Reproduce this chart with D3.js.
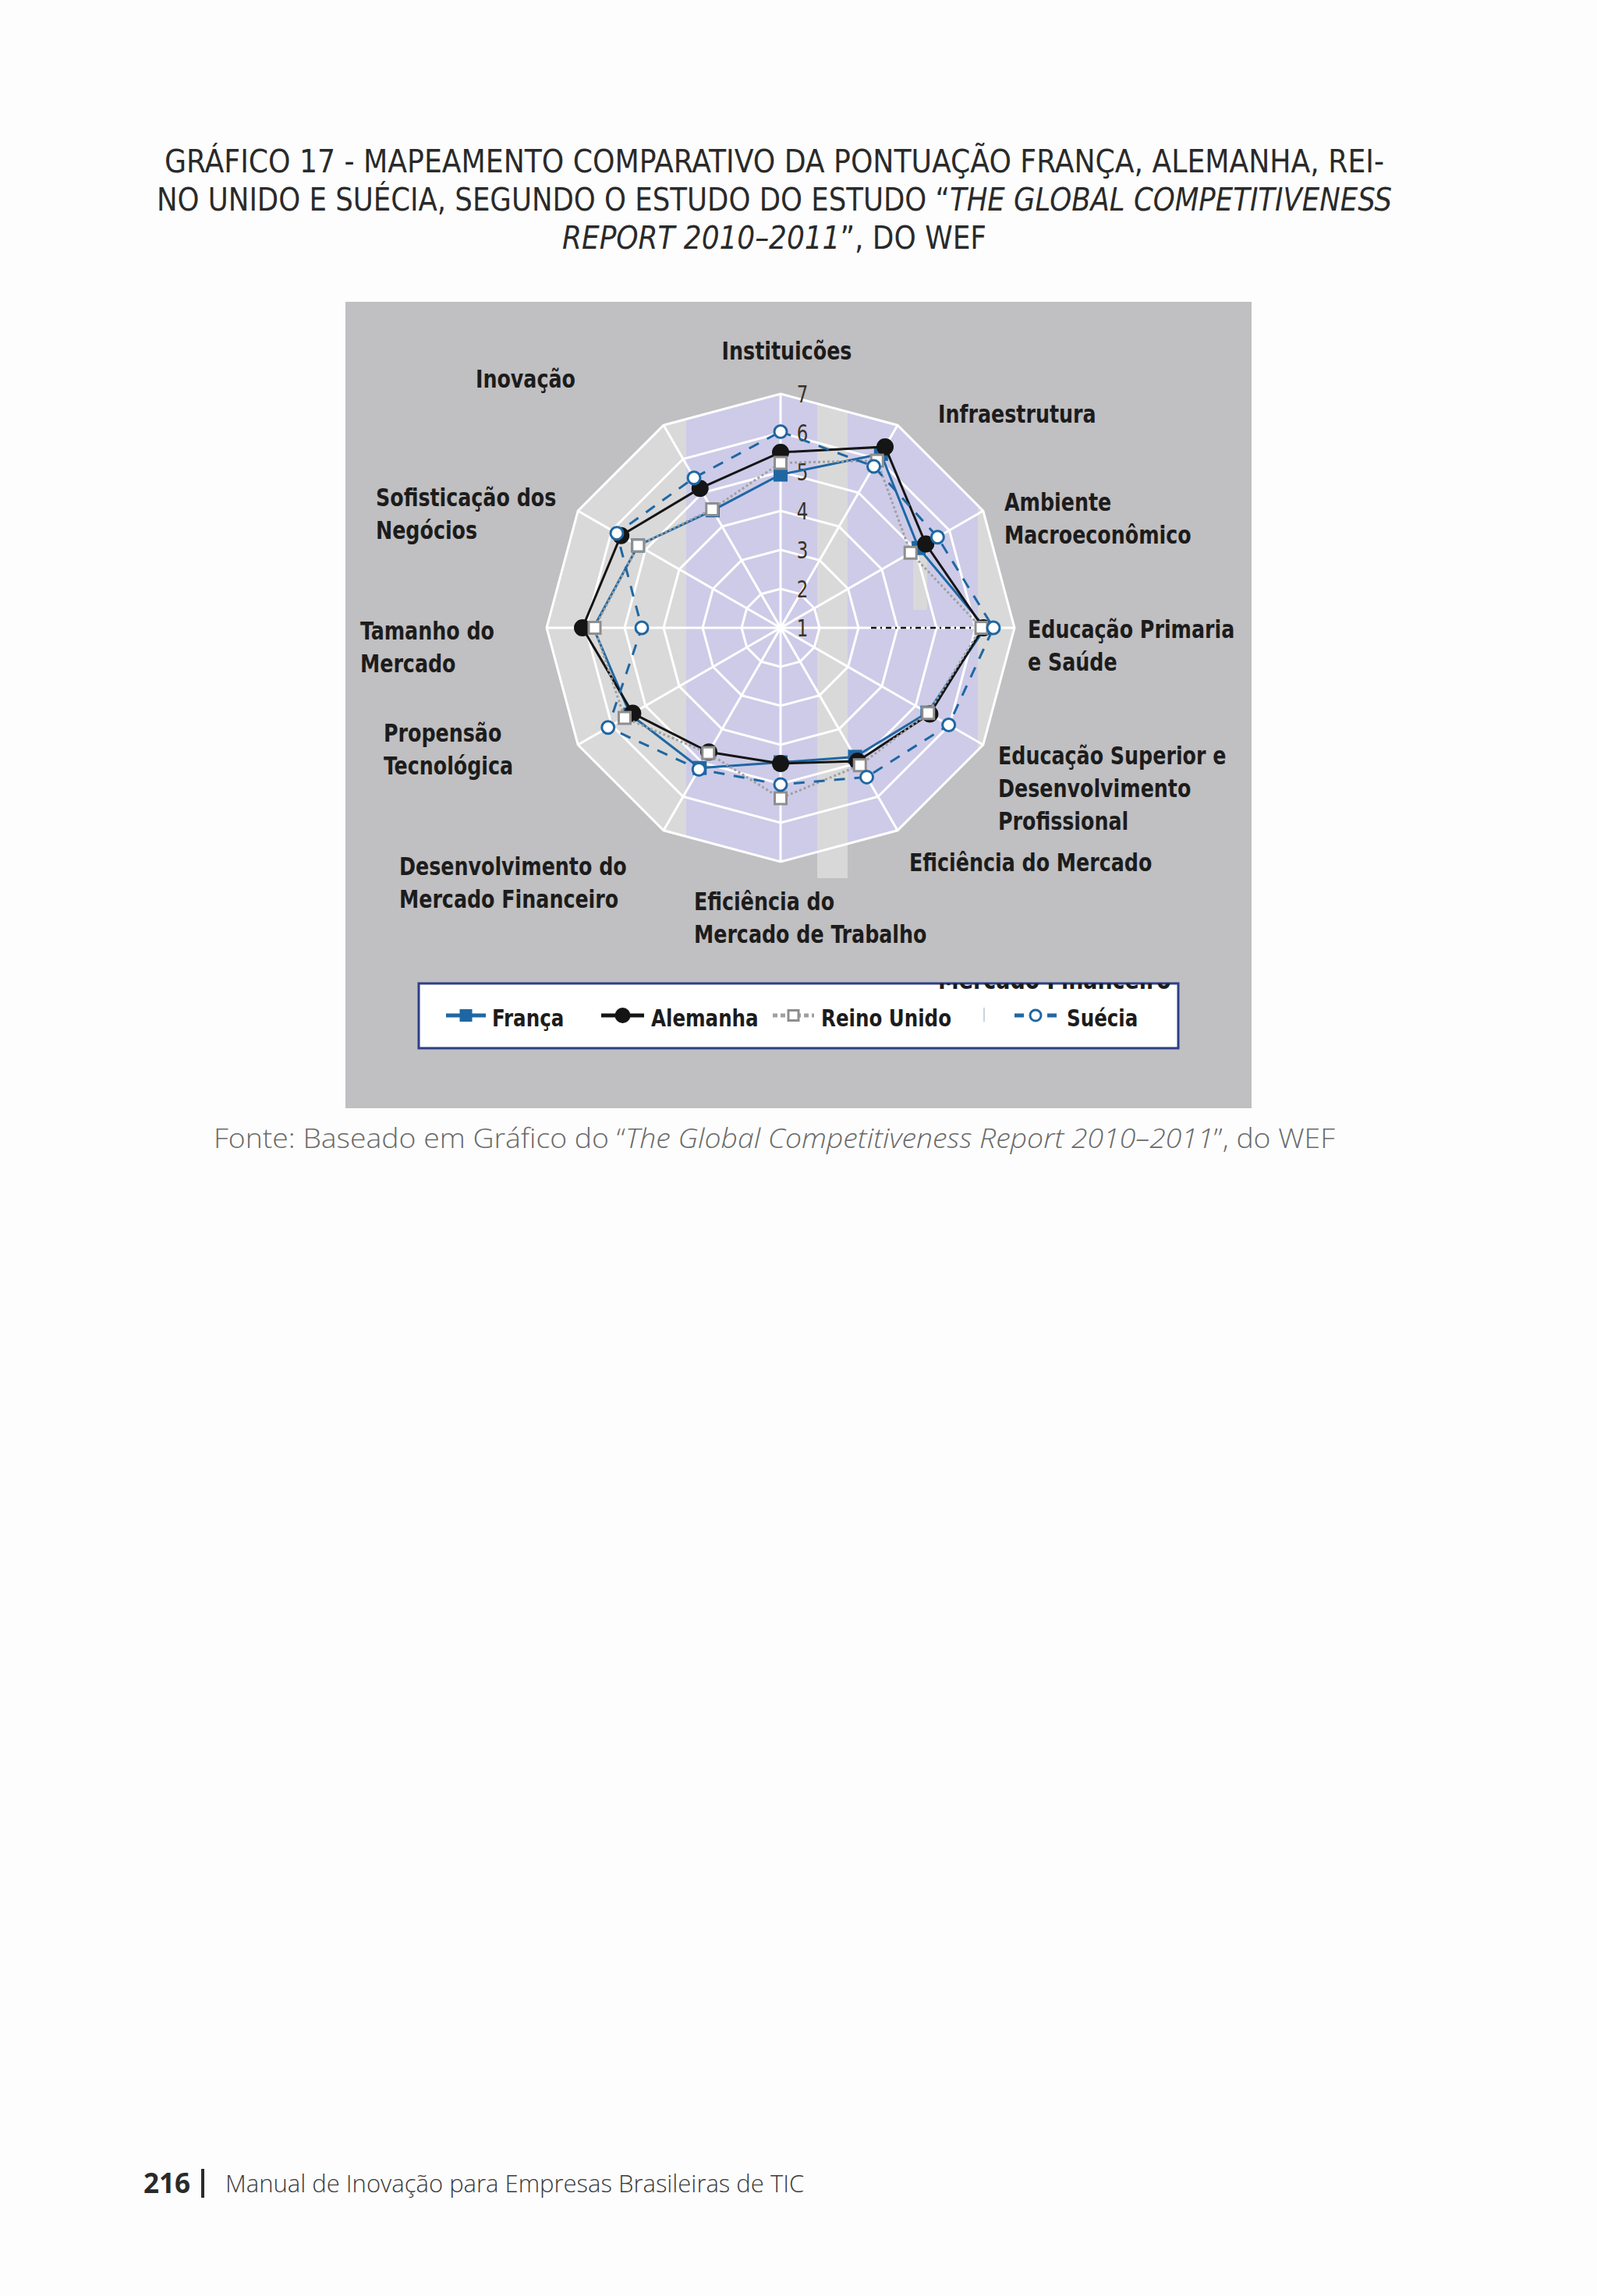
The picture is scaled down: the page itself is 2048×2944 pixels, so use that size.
<!DOCTYPE html>
<html>
<head>
<meta charset="utf-8">
<script src="https://cdn.jsdelivr.net/npm/d3@7"></script>
<style>
body{margin:0;background:#fdfdfd;}
svg{display:block;}
.lbl{font-family:"Liberation Sans Narrow","DejaVu Sans Condensed","DejaVu Sans",sans-serif;font-stretch:condensed;font-weight:bold;fill:#1c1c1c;}
.ttl{font-family:"Liberation Sans Narrow","DejaVu Sans Condensed","Noto Sans",sans-serif;font-stretch:condensed;fill:#2a2a2a;}
.src{font-family:"Open Sans","Noto Sans",sans-serif;font-weight:300;fill:#6a6a6a;}
</style>
</head>
<body>
<div id="chart"></div>
<script>
// pillars of the WEF report, clockwise from the top
const axes = ['Instituicões','Infraestrutura','Ambiente Macroeconômico','Educação Primaria e Saúde',
    'Educação Superior e Desenvolvimento Profissional','Eficiência do Mercado','Eficiência do Mercado de Trabalho',
    'Desenvolvimento do Mercado Financeiro','Propensão Tecnológica','Tamanho do Mercado',
    'Sofisticação dos Negócios','Inovação'];

const franca   = [4.93, 6.15, 5.09, 6.25, 5.35, 4.82, 4.45, 5.15, 5.45, 5.80, 5.22, 4.48];
const alemanha = [5.50, 6.36, 5.30, 6.20, 5.42, 4.95, 4.48, 4.68, 5.38, 6.08, 5.73, 5.13];
const reinoUnido = [5.23, 5.95, 4.85, 6.15, 5.37, 5.07, 5.37, 4.71, 5.62, 5.77, 5.22, 4.51];
const suecia   = [6.03, 5.78, 5.65, 6.46, 5.98, 5.42, 5.02, 5.19, 6.11, 4.56, 5.85, 5.44];

const seriesNames = ['França','Alemanha','Reino Unido','Suécia'];
const ticks = [1,2,3,4,5,6,7];

// label lines and where they sit in the picture
const axisLabels = [
    {lines:['Instituicões'], x:1009, y:461, anchor:'middle'},
    {lines:['Infraestrutura'], x:1203, y:542},
    {lines:['Ambiente','Macroeconômico'], x:1288, y:655},
    {lines:['Educação Primaria','e Saúde'], x:1318, y:818},
    {lines:['Educação Superior e','Desenvolvimento','Profissional'], x:1280, y:980},
    {lines:['Eficiência do Mercado'], x:1166, y:1117},
    {lines:['Eficiência do','Mercado de Trabalho'], x:890, y:1167},
    {lines:['Desenvolvimento do','Mercado Financeiro'], x:512, y:1122},
    {lines:['Propensão','Tecnológica'], x:492, y:951},
    {lines:['Tamanho do','Mercado'], x:462, y:820},
    {lines:['Sofisticação dos','Negócios'], x:482, y:649},
    {lines:['Inovação'], x:610, y:497}
];

const W = 2048, H = 2944;
const cx = 1001, cy = 805, R = 300;
const squeeze = 0.88; // the original labels use a narrow face

const svg = d3.select('#chart').append('svg')
    .attr('width', W)
    .attr('height', H);

// title
const title = svg.append('g').attr('class','ttl').style('font-size','41px');
title.append('text').attr('x',993).attr('y',221).attr('text-anchor','middle')
    .attr('textLength',1564).attr('lengthAdjust','spacingAndGlyphs')
    .text('GRÁFICO 17 - MAPEAMENTO COMPARATIVO DA PONTUAÇÃO FRANÇA, ALEMANHA, REI-');
const t2 = title.append('text').attr('x',993).attr('y',270).attr('text-anchor','middle')
    .attr('textLength',1584).attr('lengthAdjust','spacingAndGlyphs');
t2.append('tspan').text('NO UNIDO E SUÉCIA, SEGUNDO O ESTUDO DO ESTUDO “');
t2.append('tspan').style('font-style','italic').text('THE GLOBAL COMPETITIVENESS');
const t3 = title.append('text').attr('x',993).attr('y',319).attr('text-anchor','middle')
    .attr('textLength',544).attr('lengthAdjust','spacingAndGlyphs');
t3.append('tspan').style('font-style','italic').text('REPORT 2010–2011');
t3.append('tspan').text('”, DO WEF');

// chart panel
svg.append('rect')
    .attr('x',443).attr('y',387).attr('width',1162).attr('height',1034)
    .attr('fill','#c0bfc1');

const r = d3.scaleLinear().domain([1,7]).range([0,R]);
const angle = i => i * 2 * Math.PI / axes.length;

const plot = svg.append('g').attr('transform', `translate(${cx},${cy})`);

const ringPath = v => d3.lineRadial()
    .angle((d,i) => angle(i))
    .radius(() => r(v))
    .curve(d3.curveLinearClosed)(axes);

// the light band that runs below the web
plot.append('rect').attr('x',1048-cx).attr('y',1070-cy).attr('width',39).attr('height',56)
    .attr('fill','#d8d8d8');

plot.append('clipPath').attr('id','webclip')
    .append('path').attr('d', ringPath(7));

plot.append('path').attr('d', ringPath(7)).attr('fill','#d9d9d9');

const bands = plot.append('g').attr('clip-path','url(#webclip)');
bands.append('rect').attr('x',880-cx).attr('y',-R).attr('width',168).attr('height',2*R).attr('fill','#cdcbe8');
bands.append('rect').attr('x',1087-cx).attr('y',-R).attr('width',167).attr('height',2*R).attr('fill','#cdcbe8');
bands.append('rect').attr('x',1171-cx).attr('y',702-cy).attr('width',18).attr('height',80).attr('fill','#d9d9d9');

// grid
plot.selectAll('.ring')
    .data(ticks.slice(1))
    .enter().append('path').attr('class','ring')
    .attr('d', d => ringPath(d))
    .attr('fill','none')
    .attr('stroke','#ffffff')
    .attr('stroke-width',3);

plot.selectAll('.spoke')
    .data(axes)
    .enter().append('line').attr('class','spoke')
    .attr('x1',0).attr('y1',0)
    .attr('x2',(d,i) => r(7)*Math.sin(angle(i)))
    .attr('y2',(d,i) => -r(7)*Math.cos(angle(i)))
    .attr('stroke','#ffffff')
    .attr('stroke-width',3);

plot.selectAll('.tick')
    .data(ticks)
    .enter().append('text').attr('class','lbl tick')
    .attr('transform', d => `translate(28,${-r(d) + 11}) scale(0.82,1)`)
    .attr('text-anchor','middle')
    .style('font-size','31px')
    .style('font-weight','normal')
    .style('fill','#3b3226')
    .text(d => d);

// stray dash-dot stroke on the right spoke
plot.append('line')
    .attr('x1',1117-cx).attr('y1',0).attr('x2',1254-cx).attr('y2',0)
    .attr('stroke','#111').attr('stroke-width',2.5)
    .attr('stroke-dasharray','7 5 2 5');

// series
const series = [
    {name:seriesNames[0], values:franca, color:'#1f67a3', dash:null, marker:'square', fill:'#1f67a3', mstroke:'#1f67a3', size:15},
    {name:seriesNames[1], values:alemanha, color:'#151515', dash:null, marker:'circle', fill:'#151515', mstroke:'#151515', size:19},
    {name:seriesNames[2], values:reinoUnido, color:'#a0a0a0', dash:'3 3', marker:'square', fill:'#ffffff', mstroke:'#8e8e8e', size:15},
    {name:seriesNames[3], values:suecia, color:'#1f67a3', dash:'14 12', marker:'circle', fill:'#ffffff', mstroke:'#1f67a3', size:16}
];

const radar = d3.lineRadial()
    .angle((d,i) => angle(i))
    .radius(d => r(d))
    .curve(d3.curveLinearClosed);

const sg = plot.selectAll('.series')
    .data(series)
    .enter().append('g').attr('class','series');

sg.append('path')
    .attr('d', d => radar(d.values))
    .attr('fill','none')
    .attr('stroke', d => d.color)
    .attr('stroke-width',3)
    .attr('stroke-dasharray', d => d.dash);

function drawMarker(g, kind, x, y, size, fill, stroke){
    if(kind === 'square'){
        g.append('rect')
            .attr('x',x-size/2).attr('y',y-size/2)
            .attr('width',size).attr('height',size)
            .attr('fill',fill).attr('stroke',stroke).attr('stroke-width',3);
    }else{
        g.append('circle')
            .attr('cx',x).attr('cy',y).attr('r',size/2)
            .attr('fill',fill).attr('stroke',stroke).attr('stroke-width',3);
    }
}

sg.each(function(s){
    const g = d3.select(this);
    s.values.forEach((v,i) => {
        const x = r(v)*Math.sin(angle(i));
        const y = -r(v)*Math.cos(angle(i));
        drawMarker(g, s.marker, x, y, s.size, s.fill, s.mstroke);
    });
});

// axis labels
const lab = svg.selectAll('.axislabel')
    .data(axisLabels)
    .enter().append('text').attr('class','lbl axislabel')
    .attr('transform', d => `translate(${d.x},${d.y}) scale(${squeeze},1)`)
    .attr('text-anchor', d => d.anchor || 'start')
    .style('font-size','32px');
lab.selectAll('tspan')
    .data(d => d.lines.map((t,k) => ({t:t, k:k})))
    .enter().append('tspan')
    .attr('x', 0)
    .attr('dy', d => d.k === 0 ? 0 : 42)
    .text(d => d.t);

// legend
const lg = svg.append('g');
lg.append('clipPath').attr('id','legclip')
    .append('rect').attr('x',537).attr('y',1261).attr('width',974).attr('height',83);
lg.append('rect')
    .attr('x',537).attr('y',1261).attr('width',974).attr('height',83)
    .attr('fill','#ffffff').attr('stroke','#2c3f88').attr('stroke-width',3);
// cut-off text peeking in at the top of the box
lg.append('g').attr('clip-path','url(#legclip)')
    .append('text').attr('class','lbl')
    .attr('transform',`translate(1203,1268) scale(${squeeze},1)`)
    .style('font-size','34px')
    .text('Mercado Financeiro');
lg.append('line')
    .attr('x1',1262).attr('x2',1262).attr('y1',1292).attr('y2',1310)
    .attr('stroke','#c9d3e0').attr('stroke-width',2);

const legendPos = [{x1:572,x2:623,tx:631},{x1:771,x2:826,tx:835},{x1:991,x2:1044,tx:1053},{x1:1301,x2:1355,tx:1368}];
const ly = 1302;
series.forEach((s,k) => {
    const p = legendPos[k];
    lg.append('line')
        .attr('x1',p.x1).attr('x2',p.x2).attr('y1',ly).attr('y2',ly)
        .attr('stroke',s.color).attr('stroke-width',5)
        .attr('stroke-dasharray', s.dash ? (k === 3 ? '12 9' : '6 4') : null);
    drawMarker(lg, s.marker, (p.x1+p.x2)/2, ly, s.size - 2, s.fill, s.mstroke);
    lg.append('text').attr('class','lbl')
        .attr('transform',`translate(${p.tx},${ly + 14}) scale(${squeeze},1)`)
        .style('font-size','31px')
        .text(s.name);
});

// source
const src = svg.append('text').attr('class','src')
    .attr('x',274).attr('y',1472)
    .attr('textLength',1438).attr('lengthAdjust','spacingAndGlyphs')
    .style('font-size','34px');
src.append('tspan').text('Fonte: Baseado em Gráfico do “');
src.append('tspan').style('font-style','italic').text('The Global Competitiveness Report 2010–2011');
src.append('tspan').text('”, do WEF');

// footer
svg.append('text').attr('x',184).attr('y',2812)
    .style('font-family','"Open Sans","Noto Sans",sans-serif')
    .style('font-weight','bold').style('font-size','35px').style('fill','#2a2a2a')
    .text('216');
svg.append('rect').attr('x',258).attr('y',2781).attr('width',4).attr('height',37).attr('fill','#2a2a2a');
svg.append('text').attr('x',289).attr('y',2811)
    .style('font-family','"Open Sans","Noto Sans",sans-serif')
    .style('font-weight','300').style('font-size','31px').style('fill','#3a3a3a')
    .text('Manual de Inovação para Empresas Brasileiras de TIC');
</script>
</body>
</html>
